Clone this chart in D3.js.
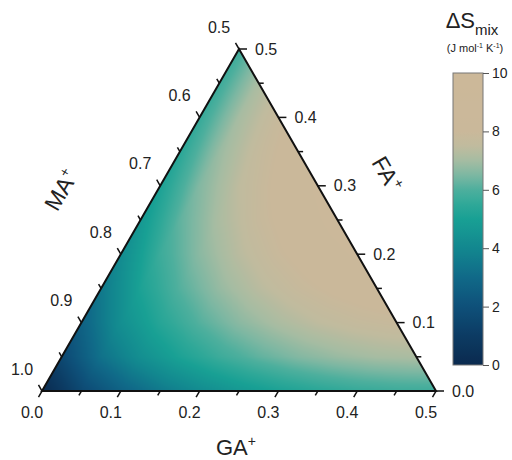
<!DOCTYPE html>
<html>
<head>
<meta charset="utf-8">
<script src="https://cdn.jsdelivr.net/npm/d3@7"></script>
<style>
  html, body { margin: 0; padding: 0; background: #fff; }
  svg { display: block; font-family: Arial, "Liberation Sans", sans-serif; }
</style>
</head>
<body>
<svg id="chart" width="512" height="460"></svg>
<script>
// ---------------- data ----------------
// grid levels (mole fraction) for GA+ and FA+; MA+ = 1 - GA - FA
const gaLevels = [0, 0.05, 0.1, 0.15, 0.2, 0.25, 0.3, 0.35, 0.4, 0.45, 0.5];
const faLevels = [0, 0.05, 0.1, 0.15, 0.2, 0.25, 0.3, 0.35, 0.4, 0.45, 0.5];
// ΔSmix (J mol-1 K-1), one row per FA level, entries along GA levels
const dSmixRows = [
  [0.00, 1.65, 2.70, 3.51, 4.16, 4.68, 5.08, 5.38, 5.60, 5.72, 5.76],
  [1.65, 3.28, 4.31, 5.10, 5.72, 6.20, 6.58, 6.85, 7.03, 7.11],
  [2.70, 4.31, 5.31, 6.07, 6.67, 7.12, 7.47, 7.70, 7.84],
  [3.51, 5.10, 6.07, 6.81, 7.37, 7.80, 8.10, 8.30],
  [4.16, 5.72, 6.67, 7.37, 7.90, 8.29, 8.56],
  [4.68, 6.20, 7.12, 7.80, 8.29, 8.64],
  [5.08, 6.58, 7.47, 8.10, 8.56],
  [5.38, 6.85, 7.70, 8.30],
  [5.60, 7.03, 7.84],
  [5.72, 7.11],
  [5.76]
];
const gaTicks = [0, 0.05, 0.1, 0.15, 0.2, 0.25, 0.3, 0.35, 0.4, 0.45, 0.5];
const gaLabels = ["0.0", "0.1", "0.2", "0.3", "0.4", "0.5"];
const maTicks = [0.5, 0.55, 0.6, 0.65, 0.7, 0.75, 0.8, 0.85, 0.9, 0.95, 1.0];
const maLabels = ["0.5", "0.6", "0.7", "0.8", "0.9", "1.0"];
const faTicks = [0, 0.05, 0.1, 0.15, 0.2, 0.25, 0.3, 0.35, 0.4, 0.45, 0.5];
const faLabels = ["0.0", "0.1", "0.2", "0.3", "0.4", "0.5"];
const cbTicks = [0, 2, 4, 6, 8, 10];
const colorStops = [0, 1, 2, 3, 4, 5, 5.5, 6, 6.5, 7, 7.5, 8, 10];
const colorValues = ["#0a2a4f", "#0c3b63", "#0e5079", "#106988", "#12878f", "#18a094",
                     "#2fa898", "#4daf9d", "#7cb7a2", "#a5bca2", "#c0bb9e", "#cab89a", "#ccb899"];

// ---------------- layout ----------------
const svg = d3.select("#chart");
const BLx = 42, baseY = 391, W = 394, H = 342;
const gx = d3.scaleLinear().domain([0, 0.5]).range([0, W]);      // GA -> x offset
const fy = d3.scaleLinear().domain([0, 0.5]).range([baseY, baseY - H]); // FA -> y
function toXY(ga, fa) { return [BLx + gx(ga) + gx(fa) / 2, fy(fa)]; }
const color = d3.scaleLinear().domain(colorStops).range(colorValues).interpolate(d3.interpolateRgb).clamp(true);

const pBL = toXY(0, 0), pBR = toXY(0.5, 0), pT = toXY(0, 0.5);

// ---------------- heat field (canvas -> image) ----------------
const x0 = Math.floor(pBL[0]) - 2, x1 = Math.ceil(pBR[0]) + 2;
const y0 = Math.floor(pT[1]) - 2, y1 = Math.ceil(pBL[1]) + 2;
const cw = x1 - x0, ch = y1 - y0;
const canvas = document.createElement("canvas");
canvas.width = cw; canvas.height = ch;
const ctx = canvas.getContext("2d");
const img = ctx.createImageData(cw, ch);
const N = gaLevels.length - 1; // 10 steps
const step = gaLevels[1] - gaLevels[0];
function gridVal(i, j) { return dSmixRows[j][i]; }
for (let py = 0; py < ch; py++) {
  for (let px = 0; px < cw; px++) {
    const X = x0 + px + 0.5, Y = y0 + py + 0.5;
    let fa = fy.invert(Y);
    let ga = gx.invert(X - BLx - gx(fa) / 2);
    let u = ga / step, v = fa / step;
    u = Math.max(0, u); v = Math.max(0, v);
    if (u + v > N) { const s = N / (u + v); u *= s; v *= s; }
    let i = Math.min(Math.floor(u), N - 1), j = Math.min(Math.floor(v), N - 1);
    if (i + j > N - 1) { if (i > 0 && i >= j) i = N - 1 - j; else j = N - 1 - i; }
    const fu = u - i, fv = v - j;
    let val;
    if (fu + fv <= 1 || i + j + 2 > N) {
      const a00 = gridVal(i, j), a10 = gridVal(i + 1, j), a01 = gridVal(i, j + 1);
      val = a00 + fu * (a10 - a00) + fv * (a01 - a00);
    } else {
      const a11 = gridVal(i + 1, j + 1), a10 = gridVal(i + 1, j), a01 = gridVal(i, j + 1);
      val = a11 + (1 - fu) * (a01 - a11) + (1 - fv) * (a10 - a11);
    }
    const c = d3.rgb(color(val));
    const k = (py * cw + px) * 4;
    img.data[k] = c.r; img.data[k + 1] = c.g; img.data[k + 2] = c.b; img.data[k + 3] = 255;
  }
}
ctx.putImageData(img, 0, 0);

const defs = svg.append("defs");
defs.append("clipPath").attr("id", "triClip")
  .append("path").attr("d", "M" + [pBL, pBR, pT].map(p => p.join(",")).join("L") + "Z");

svg.append("image")
  .attr("x", x0).attr("y", y0).attr("width", cw).attr("height", ch)
  .attr("href", canvas.toDataURL())
  .attr("clip-path", "url(#triClip)");

// ---------------- frame ----------------
svg.append("path")
  .attr("d", "M" + [pBL, pBR, pT].map(p => p.join(",")).join("L") + "Z")
  .attr("fill", "none").attr("stroke", "#111").attr("stroke-width", 2)
  .attr("stroke-linejoin", "miter");

const tickG = svg.append("g").attr("stroke", "#111").attr("stroke-width", 1.5);
const labelG = svg.append("g").attr("font-size", 16).attr("fill", "#222");
function isMajor(v) { return Math.abs(Math.round(v * 10) - v * 10) < 1e-6; }

// GA (bottom) axis, ticks toward down-left
const dGA = [-0.5, 0.866];
gaTicks.forEach(v => {
  const p = toXY(v, 0), L = isMajor(v) ? 7 : 5;
  tickG.append("line").attr("x1", p[0]).attr("y1", p[1])
    .attr("x2", p[0] + dGA[0] * L).attr("y2", p[1] + dGA[1] * L);
});
gaLabels.forEach(t => {
  const p = toXY(+t, 0);
  labelG.append("text").attr("x", p[0] - 10).attr("y", p[1] + 21).attr("dy", "0.35em")
    .attr("text-anchor", "middle").text(t);
});

// MA (left) axis, ticks toward up-left
const dMA = [-0.5, -0.866];
maTicks.forEach(v => {
  const p = toXY(0, 1 - v), L = isMajor(v) ? 7 : 5;
  tickG.append("line").attr("x1", p[0]).attr("y1", p[1])
    .attr("x2", p[0] + dMA[0] * L).attr("y2", p[1] + dMA[1] * L);
});
maLabels.forEach(t => {
  const p = toXY(0, 1 - (+t));
  labelG.append("text").attr("x", p[0] - 20).attr("y", p[1] - 22).attr("dy", "0.35em")
    .attr("text-anchor", "middle").text(t);
});

// FA (right) axis, ticks toward right
faTicks.forEach(v => {
  const p = toXY(0.5 - v, v), L = isMajor(v) ? 8 : 5;
  tickG.append("line").attr("x1", p[0]).attr("y1", p[1])
    .attr("x2", p[0] + L).attr("y2", p[1]);
});
faLabels.forEach(t => {
  const p = toXY(0.5 - (+t), +t);
  labelG.append("text").attr("x", p[0] + 16).attr("y", p[1]).attr("dy", "0.35em")
    .attr("text-anchor", "start").text(t);
});

// ---------------- axis titles ----------------
function titleWithSup(g, base, sup) {
  g.append("tspan").text(base);
  g.append("tspan").attr("font-size", 14).attr("dy", -9).text(sup);
}
const gaT = svg.append("text").attr("x", 236).attr("y", 455).attr("text-anchor", "middle")
  .attr("font-size", 22).attr("fill", "#222");
titleWithSup(gaT, "GA", "+");

const maT = svg.append("text").attr("transform", "translate(68,194) rotate(-60)")
  .attr("text-anchor", "middle").attr("font-size", 23).attr("fill", "#222");
titleWithSup(maT, "MA", "+");

const faT = svg.append("text").attr("transform", "translate(380,178) rotate(60)")
  .attr("text-anchor", "middle").attr("font-size", 23).attr("fill", "#222");
titleWithSup(faT, "FA", "+");

// ---------------- colour bar ----------------
const cbX = 453, cbW = 30, cbTop = 73, cbBot = 365;
const cbScale = d3.scaleLinear().domain([0, 10]).range([cbBot, cbTop]);
const grad = defs.append("linearGradient").attr("id", "cbGrad")
  .attr("x1", 0).attr("y1", 1).attr("x2", 0).attr("y2", 0);
d3.range(0, 10.001, 0.25).forEach(v => {
  grad.append("stop").attr("offset", v / 10).attr("stop-color", color(v));
});
svg.append("rect").attr("x", cbX).attr("y", cbTop).attr("width", cbW).attr("height", cbBot - cbTop)
  .attr("fill", "url(#cbGrad)").attr("stroke", "#777").attr("stroke-width", 1);
const cbAxis = d3.axisRight(cbScale).tickValues(cbTicks).tickSize(6).tickPadding(3)
  .tickFormat(d3.format("d"));
const cbG = svg.append("g").attr("transform", `translate(${cbX + cbW},0)`).call(cbAxis);
cbG.select(".domain").remove();
cbG.selectAll(".tick line").attr("stroke", "#555");
cbG.selectAll(".tick text").attr("font-size", 14).attr("fill", "#222")
  .attr("font-family", 'Arial, "Liberation Sans", sans-serif');

// colour bar title
const t1 = svg.append("text").attr("x", 472).attr("y", 28).attr("text-anchor", "middle")
  .attr("fill", "#222");
t1.append("tspan").attr("font-size", 22).text("ΔS");
t1.append("tspan").attr("font-size", 15).attr("dy", 7).text("mix");
const t2 = svg.append("text").attr("x", 475).attr("y", 52).attr("text-anchor", "middle")
  .attr("fill", "#222").attr("font-size", 11);
t2.append("tspan").text("(J mol");
t2.append("tspan").attr("font-size", 7).attr("dy", -4).text("-1");
t2.append("tspan").attr("dy", 4).text(" K");
t2.append("tspan").attr("font-size", 7).attr("dy", -4).text("-1");
t2.append("tspan").attr("dy", 4).text(")");
</script>
</body>
</html>
